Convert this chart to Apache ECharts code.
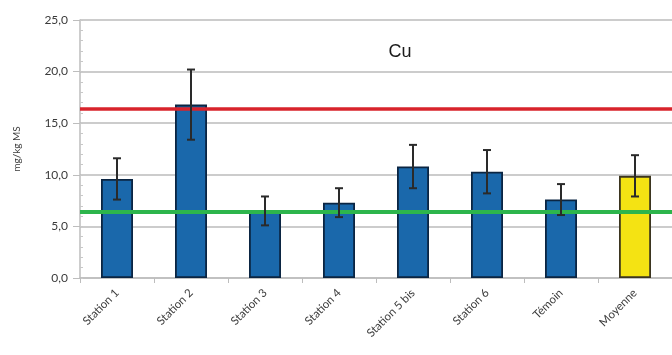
<!DOCTYPE html>
<html><head><meta charset="utf-8">
<script src="https://cdn.jsdelivr.net/npm/echarts@6/dist/echarts.min.js"></script>
<style>html,body{margin:0;padding:0;background:#fff}#c{width:672px;height:355px}</style>
</head><body><div id="c"></div>
<script>
const categories = ['Station 1','Station 2','Station 3','Station 4','Station 5 bis','Station 6','Témoin','Moyenne'];
const values = [9.6, 16.8, 6.5, 7.3, 10.8, 10.3, 7.6, 9.9];
const errors = [2.0, 3.4, 1.4, 1.4, 2.1, 2.1, 1.5, 2.0];
const redThreshold = 16.4;
const greenThreshold = 6.4;
const yTicks = [0, 5, 10, 15, 20, 25];
const title = 'Cu';
const yName = 'mg/kg MS';

const chart = echarts.init(document.getElementById('c'), null, {renderer:'canvas'});
const font = 'Lato, "Open Sans", sans-serif';
chart.setOption({
  animation: false,
  backgroundColor: '#fff',
  title: {text: title, left: 395, top: 38, textAlign: 'center',
    textStyle: {fontFamily: 'Liberation Sans, Arial, sans-serif', fontSize: 18, fontWeight: 'normal', color: '#1a1a1a'}},
  grid: {left: 80, right: -8, top: 20, bottom: 77, containLabel: false},
  xAxis: {type: 'category', data: categories,
    axisLine: {lineStyle: {color: '#bdbdbd', width: 1.5}},
    axisTick: {show: true, length: 5, lineStyle: {color: '#bdbdbd'}},
    axisLabel: {rotate: 45, margin: 13, fontFamily: font, fontSize: 11.5, color: '#3a3a3a'}},
  yAxis: [{type: 'value', min: yTicks[0], max: yTicks[yTicks.length-1], interval: 5,
    name: yName, nameLocation: 'middle', nameGap: 58, nameRotate: 90,
    nameTextStyle: {fontFamily: font, fontSize: 10, color: '#3a3a3a'},
    axisLine: {show: true, lineStyle: {color: '#bdbdbd', width: 1.5}},
    axisTick: {show: true, length: 7, lineStyle: {color: '#bdbdbd'}},
    axisLabel: {formatter: v => v.toFixed(1).replace('.', ','), margin: 12, fontFamily: font, fontSize: 12, color: '#3a3a3a'},
    splitLine: {lineStyle: {color: '#cccccc', width: 2}}},
   {type: 'value', min: 0, max: 25, interval: 1, position: 'left',
    axisLine: {show: false}, axisLabel: {show: false}, splitLine: {show: false},
    axisTick: {show: true, inside: true, length: 3, lineStyle: {color: '#c8c8c8'}}}],
  series: [
    {type: 'bar', barWidth: 32,
     data: values.map((v, i) => ({value: v, itemStyle: {color: i === values.length-1 ? '#f4e313' : '#1a68ab',
       borderColor: i === values.length-1 ? '#3b3520' : '#0b2542', borderWidth: 1.8}})),
     markLine: {silent: true, symbol: 'none', label: {show: false},
       data: [{yAxis: redThreshold, lineStyle: {color: '#d8232b', width: 3.5, type: 'solid'}},
              {yAxis: greenThreshold, lineStyle: {color: '#2db54c', width: 4, type: 'solid'}}]}},
    {type: 'custom', z: 5,
     data: values.map((v, i) => [i, v - errors[i], v + errors[i]]),
     renderItem: (params, api) => {
       const lo = api.coord([api.value(0), api.value(1)]);
       const hi = api.coord([api.value(0), api.value(2)]);
       const hw = 4;
       const st = {stroke: '#2a2a2a', lineWidth: 2};
       return {type: 'group', children: [
         {type: 'line', shape: {x1: hi[0], y1: hi[1], x2: lo[0], y2: lo[1]}, style: st},
         {type: 'line', shape: {x1: hi[0]-hw, y1: hi[1], x2: hi[0]+hw, y2: hi[1]}, style: st},
         {type: 'line', shape: {x1: lo[0]-hw, y1: lo[1], x2: lo[0]+hw, y2: lo[1]}, style: st}
       ]};
     }}
  ]
});
</script></body></html>
